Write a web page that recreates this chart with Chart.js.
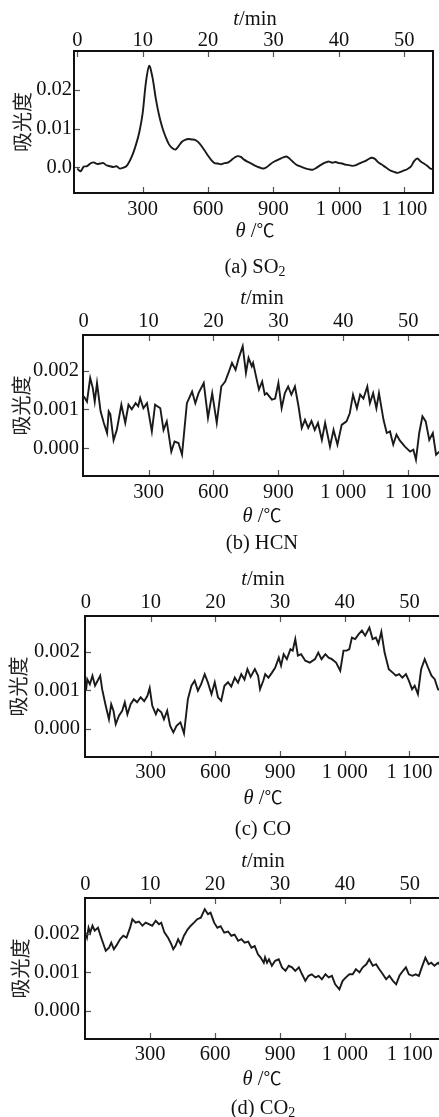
<!DOCTYPE html>
<html><head><meta charset="utf-8">
<script src="https://cdn.jsdelivr.net/npm/chart.js@4/dist/chart.umd.min.js"></script>
<style>
html,body{margin:0;padding:0;background:#fff;width:439px;height:1117px;overflow:hidden;}
#wrap{position:relative;width:439px;height:1117px;}
canvas{position:absolute;left:0;}
.lbl{position:absolute;font-family:"Liberation Serif","Times New Roman",serif;font-size:20.5px;color:#111;white-space:nowrap;transform:translate(-50%,-50%);line-height:1;}
.lbl i{font-style:italic;}
.lbl .deg{font-family:"Noto Sans CJK SC","DejaVu Sans",sans-serif;font-size:18px;}
.lbl sub{font-size:0.68em;vertical-align:-0.22em;line-height:0;}
</style></head>
<body><div id="wrap">
<canvas id="cA" width="439" height="225" style="top:0px"></canvas>
<canvas id="cB" width="439" height="208" style="top:300px"></canvas>
<canvas id="cC" width="439" height="209" style="top:580px"></canvas>
<canvas id="cD" width="439" height="209" style="top:862px"></canvas>

<div class="lbl" style="left:255px;top:18px"><i>t</i>/min</div>
<div class="lbl" style="left:255px;top:230px"><i>θ</i> /<span class="deg">℃</span></div>
<div class="lbl" style="left:255px;top:266px">(a) SO<sub>2</sub></div>

<div class="lbl" style="left:262px;top:297px"><i>t</i>/min</div>
<div class="lbl" style="left:262px;top:515px"><i>θ</i> /<span class="deg">℃</span></div>
<div class="lbl" style="left:262px;top:542px">(b) HCN</div>

<div class="lbl" style="left:263px;top:578px"><i>t</i>/min</div>
<div class="lbl" style="left:263px;top:797px"><i>θ</i> /<span class="deg">℃</span></div>
<div class="lbl" style="left:263px;top:828px">(c) CO</div>

<div class="lbl" style="left:263px;top:860px"><i>t</i>/min</div>
<div class="lbl" style="left:262px;top:1078px"><i>θ</i> /<span class="deg">℃</span></div>
<div class="lbl" style="left:263px;top:1107px">(d) CO<sub>2</sub></div>
</div>
<script>
// ---- axis tick values / labels ----
const minuteTicks = [0, 10, 20, 30, 40, 50];
const tempTickPos = [10, 20, 30, 40, 50];
const tempTickLabels = ['300', '600', '900', '1 000', '1 100'];
const yTicksSO2 = [0, 0.01, 0.02];
const yLabelsSO2 = ['0.0', '0.01', '0.02'];
const yTicksSmall = [0, 0.001, 0.002];
const yLabelsSmall = ['0.000', '0.001', '0.002'];
const yTitle = '吸光度';

// ---- (a) SO2 ----
const tSO2 = [
 0,0.5,1,1.5,2,2.5,3,3.5,4,4.5,
 5,5.5,6,6.5,7,7.5,8,8.5,9,9.5,
 10,10.5,11,11.5,12,12.5,13,13.5,14,14.5,
 15,15.5,16,16.5,17,17.5,18,18.5,19,19.5,
 20,20.5,21,21.5,22,22.5,23,23.5,24,24.5,
 25,25.5,26,26.5,27,27.5,28,28.5,29,29.5,
 30,30.5,31,31.5,32,32.5,33,33.5,34,34.5,
 35,35.5,36,36.5,37,37.5,38,38.5,39,39.5,
 40,40.5,41,41.5,42,42.5,43,43.5,44,44.5,
 45,45.5,46,46.5,47,47.5,48,48.5,49,49.5,
 50,50.5,51,51.5,52,52.5,53,53.5,54,54.5];
const aSO2 = [
 -0.0003,-0.0010,0.0002,0.0003,0.0010,0.0013,0.0009,0.0010,0.0011,0.0005,
 0.0003,0.0001,0.0003,-0.0003,-0.0001,0.0003,0.0016,0.0035,0.0060,0.0092,
 0.0140,0.0220,0.0262,0.0232,0.0178,0.0135,0.0103,0.0079,0.0060,0.0050,
 0.0046,0.0055,0.0066,0.0071,0.0073,0.0072,0.0071,0.0065,0.0055,0.0043,
 0.0030,0.0019,0.0011,0.0010,0.0008,0.0011,0.0012,0.0018,0.0025,0.0029,
 0.0027,0.0020,0.0015,0.0011,0.0006,0.0002,-0.0001,-0.0003,0.0001,0.0008,
 0.0014,0.0018,0.0022,0.0026,0.0028,0.0022,0.0014,0.0007,0.0003,0.0000,
 -0.0003,-0.0005,-0.0006,-0.0002,0.0004,0.0009,0.0013,0.0015,0.0012,0.0014,
 0.0011,0.0010,0.0007,0.0006,0.0004,0.0005,0.0009,0.0013,0.0016,0.0021,
 0.0025,0.0022,0.0013,0.0008,0.0002,-0.0004,-0.0009,-0.0012,-0.0014,-0.0011,
 -0.0008,-0.0004,0.0002,0.0016,0.0023,0.0015,0.0010,0.0004,-0.0003,-0.0005];

// ---- (b) HCN ----
const tHCN = [
 0,0.5,1.0,1.4,1.7,2.05,2.6,3.1,3.6,3.85,
 4.1,4.6,5.1,5.8,6.4,6.9,7.4,8.0,8.4,8.7,
 9.2,9.75,10.5,11.0,11.8,12.3,12.8,13.5,14.0,14.6,
 15.15,15.9,16.7,17.2,17.7,18.5,19.15,19.8,20.5,21.2,
 21.8,22.3,22.85,23.4,23.9,24.5,25.0,25.4,25.9,26.1,
 27.0,27.5,27.9,28.2,29.0,29.5,30.0,30.5,31.0,31.5,
 32.0,32.55,33.1,33.6,34.1,34.6,35.1,35.6,36.1,36.7,
 37.2,37.95,38.5,39.1,39.75,40.5,41.0,41.5,42.1,42.6,
 43.1,43.7,44.1,44.6,45.1,45.5,46.2,46.7,47.2,47.7,
 48.2,48.7,49.5,50.3,50.8,51.2,51.7,52.2,52.7,53.25,
 53.8,54.3,54.8,55.1];
const aHCN = [
 0.00134,0.00120,0.00181,0.00155,0.00120,0.00168,0.00095,0.00065,0.00039,0.00095,
 0.00088,0.00020,0.00047,0.00112,0.00065,0.00112,0.00100,0.00116,0.00108,0.00129,
 0.00103,0.00116,0.00043,0.00112,0.00103,0.00047,0.00069,-0.00009,0.00017,0.00013,
 -0.00017,0.00116,0.00146,0.00116,0.00142,0.00168,0.00078,0.00142,0.00065,0.00159,
 0.00172,0.00194,0.00220,0.00202,0.00233,0.00263,0.00194,0.00233,0.00211,0.00220,
 0.00151,0.00172,0.00138,0.00142,0.00125,0.00128,0.00168,0.00103,0.00142,0.00159,
 0.00138,0.00159,0.00108,0.00052,0.00073,0.00052,0.00070,0.00047,0.00065,0.00021,
 0.00065,0.00004,0.00047,0.00009,0.00060,0.00069,0.00090,0.00138,0.00103,0.00138,
 0.00128,0.00159,0.00116,0.00142,0.00103,0.00142,0.00073,0.00039,0.00043,0.00009,
 0.00035,0.00020,0.00004,-0.00009,-0.00004,-0.00030,0.00039,0.00082,0.00069,0.00021,
 0.00039,-0.00017,-0.00009,-0.00005];

// ---- (c) CO ----
const tCO = [
 0,0.2,0.6,1.0,1.4,1.8,2.2,2.5,3.0,3.55,
 3.9,4.25,4.6,5.1,5.6,6.0,6.4,6.9,7.4,7.9,
 8.45,9.0,9.5,9.85,10.25,10.8,11.1,11.65,12.05,12.55,
 13.0,13.5,14.0,14.6,15.15,15.75,16.3,16.8,17.3,17.8,
 18.35,18.85,19.4,19.9,20.4,20.9,21.4,21.95,22.45,23.0,
 23.5,24.0,24.5,24.95,25.45,26.1,26.6,26.9,27.4,27.7,
 28.2,28.75,29.25,29.8,30.15,30.55,31.05,31.6,31.95,32.35,
 32.75,33.25,33.9,34.6,35.4,35.9,36.4,37.0,37.5,38.0,
 38.65,39.3,39.8,40.3,40.7,41.1,41.6,42.15,42.65,43.15,
 43.8,44.3,44.8,45.2,45.65,46.15,46.8,47.4,47.9,48.4,
 48.9,49.45,49.9,50.4,50.8,51.3,51.8,52.35,52.85,53.4,
 53.9,54.4,54.8];
const aCO = [
 0.00099,0.00129,0.00116,0.00138,0.00112,0.00125,0.00138,0.00103,0.00064,0.00025,
 0.00064,0.00047,0.00012,0.00034,0.00047,0.00069,0.00038,0.00064,0.00077,0.00069,
 0.00082,0.00072,0.00086,0.00106,0.00060,0.00038,0.00051,0.00043,0.00025,0.00047,
 0.00008,-0.00009,0.00008,0.00017,-0.00012,0.00077,0.00112,0.00125,0.00099,0.00116,
 0.00142,0.00120,0.00090,0.00121,0.00082,0.00073,0.00112,0.00121,0.00110,0.00133,
 0.00120,0.00142,0.00128,0.00155,0.00135,0.00155,0.00138,0.00103,0.00125,0.00142,
 0.00133,0.00146,0.00159,0.00185,0.00164,0.00194,0.00181,0.00207,0.00203,0.00233,
 0.00190,0.00194,0.00177,0.00172,0.00181,0.00198,0.00181,0.00194,0.00185,0.00181,
 0.00172,0.00151,0.00203,0.00203,0.00207,0.00237,0.00233,0.00246,0.00255,0.00242,
 0.00263,0.00233,0.00237,0.00221,0.00252,0.00198,0.00155,0.00146,0.00138,0.00142,
 0.00133,0.00142,0.00125,0.00103,0.00112,0.00090,0.00155,0.00181,0.00160,0.00138,
 0.00129,0.00103,0.00100];

// ---- (d) CO2 ----
const tCO2 = [
 0,0.25,0.5,0.75,1.1,1.45,1.95,2.45,3.15,3.65,
 4.0,4.4,4.8,5.35,5.85,6.35,6.9,7.25,7.75,8.25,
 8.8,9.3,9.8,10.3,10.85,11.35,11.7,12.2,12.75,13.25,
 13.55,13.9,14.3,14.7,15.2,15.75,16.25,16.75,17.25,17.8,
 18.4,18.9,19.3,19.85,20.35,20.85,21.4,22.0,22.5,23.0,
 23.55,24.05,24.55,25.1,25.6,26.1,26.6,27.0,27.5,27.7,
 28.0,28.3,28.75,29.25,29.8,30.3,30.85,31.35,31.85,32.35,
 32.9,33.4,33.9,34.4,34.9,35.45,35.95,36.45,37.0,37.5,
 38.0,38.5,39.15,39.65,40.15,40.7,41.2,41.7,42.25,42.75,
 43.3,43.75,44.3,44.8,45.3,45.85,46.35,46.85,47.4,47.9,
 48.4,48.95,49.4,49.85,50.4,50.9,51.4,51.85,52.4,52.9,
 53.3,53.8,54.35,54.8];
const aCO2 = [
 0.00203,0.00190,0.00216,0.00203,0.00221,0.00208,0.00216,0.00190,0.00156,0.00164,
 0.00177,0.00160,0.00170,0.00186,0.00195,0.00190,0.00216,0.00238,0.00229,0.00232,
 0.00221,0.00229,0.00225,0.00221,0.00234,0.00225,0.00229,0.00203,0.00190,0.00173,
 0.00160,0.00169,0.00186,0.00173,0.00195,0.00211,0.00221,0.00229,0.00238,0.00242,
 0.00264,0.00251,0.00255,0.00229,0.00216,0.00220,0.00203,0.00206,0.00195,0.00198,
 0.00182,0.00186,0.00177,0.00180,0.00164,0.00168,0.00147,0.00139,0.00125,0.00139,
 0.00125,0.00134,0.00117,0.00130,0.00134,0.00113,0.00104,0.00117,0.00113,0.00104,
 0.00113,0.00095,0.00078,0.00091,0.00095,0.00087,0.00091,0.00082,0.00095,0.00087,
 0.00091,0.00069,0.00056,0.00078,0.00087,0.00095,0.00095,0.00108,0.00100,0.00113,
 0.00121,0.00134,0.00117,0.00121,0.00108,0.00095,0.00082,0.00091,0.00078,0.00069,
 0.00091,0.00104,0.00113,0.00095,0.00091,0.00095,0.00091,0.00113,0.00138,0.00121,
 0.00125,0.00117,0.00125,0.00117];

const SERIF = '"Liberation Serif", "Times New Roman", serif';
const TXT = '#111';

const inwardTicks = {
  id: 'inwardTicks',
  afterDraw(chart) {
    const ctx = chart.ctx, ca = chart.chartArea, L = 6;
    ctx.save();
    ctx.strokeStyle = '#555';
    ctx.lineWidth = 1.2;
    for (const id of ['xTop', 'xBot', 'y']) {
      const s = chart.scales[id];
      if (!s) continue;
      s.ticks.forEach(tk => {
        const p = Math.round(s.getPixelForValue(tk.value)) + 0.5;
        if ((id === 'xTop' || id === 'xBot') && p < ca.left + 3) return;
        ctx.beginPath();
        if (id === 'xTop') { ctx.moveTo(p, ca.top + 1); ctx.lineTo(p, ca.top + L); }
        else if (id === 'xBot') { ctx.moveTo(p, ca.bottom - 1); ctx.lineTo(p, ca.bottom - L); }
        else { ctx.moveTo(ca.left + 1, p); ctx.lineTo(ca.left + L, p); }
        ctx.stroke();
      });
    }
    ctx.restore();
  }
};

function makePanel(id, t, a, yT, yL, P) {
  const tickFont = { family: SERIF, size: 20.5, lineHeight: 1 };
  const border = { display: true, color: '#111', width: 2 };
  const noGrid = { display: false, drawTicks: false };
  const scales = {
    xTop: {
      type: 'linear', position: 'top', min: P.xmin, max: P.xmax,
      afterBuildTicks: s => { s.ticks = minuteTicks.map(v => ({ value: v })); },
      ticks: { font: tickFont, color: TXT, padding: P.topPad, maxRotation: 0, autoSkip: false, callback: (v, i) => String(minuteTicks[i]) },
      grid: noGrid, border: border,
      afterFit: s => { s.height = P.topH; }
    },
    xBot: {
      type: 'linear', position: 'bottom', min: P.xmin, max: P.xmax,
      afterBuildTicks: s => { s.ticks = tempTickPos.map(v => ({ value: v })); },
      ticks: { font: tickFont, color: TXT, padding: P.botPad, maxRotation: 0, autoSkip: false, callback: (v, i) => tempTickLabels[i] },
      grid: noGrid, border: border,
      afterFit: s => { s.height = P.botH; }
    },
    y: {
      type: 'linear', position: 'left', min: P.ymin, max: P.ymax,
      afterBuildTicks: s => { s.ticks = yT.map(v => ({ value: v })); },
      ticks: { font: tickFont, color: TXT, padding: P.yPad, autoSkip: false, callback: (v, i) => yL[i] },
      grid: noGrid, border: border,
      title: { display: true, text: yTitle, color: '#222', font: { family: '"Noto Sans CJK SC", sans-serif', size: 20, lineHeight: 1.2 }, padding: { top: P.titlePad, bottom: 0 } },
      afterFit: s => { s.width = P.yW; }
    }
  };
  if (P.rW) {
    scales.yR = {
      type: 'linear', position: 'right', min: P.ymin, max: P.ymax,
      ticks: { display: false }, grid: noGrid, border: border,
      afterFit: s => { s.width = P.rW; }
    };
  }
  return new Chart(document.getElementById(id), {
    type: 'line',
    data: {
      datasets: [{
        data: t.map((x, i) => ({ x: x, y: a[i] })),
        xAxisID: 'xTop', yAxisID: 'y',
        borderColor: '#1a1a1a', borderWidth: 1.9, pointRadius: 0,
        tension: P.tension, fill: false
      }]
    },
    options: {
      responsive: false, animation: false, events: [],
      layout: { padding: 0 },
      plugins: { legend: { display: false }, tooltip: { enabled: false } },
      scales: scales
    },
    plugins: [inwardTicks]
  });
}

makePanel('cA', tSO2, aSO2, yTicksSO2, yLabelsSO2,
  { xmin: -0.5, xmax: 54.39, ymin: -0.0066, ymax: 0.0300, yW: 74, topH: 51, botH: 32, rW: 6,
    yPad: 2, topPad: 0, botPad: 6.5, titlePad: 10.5, tension: 0.3 });
makePanel('cB', tHCN, aHCN, yTicksSmall, yLabelsSmall,
  { xmin: -0.11, xmax: 54.75, ymin: -0.00072, ymax: 0.00292, yW: 83, topH: 35, botH: 32, rW: 0,
    yPad: 4, topPad: 3, botPad: 6.5, titlePad: 9.5, tension: 0 });
makePanel('cC', tCO, aCO, yTicksSmall, yLabelsSmall,
  { xmin: -0.15, xmax: 54.56, ymin: -0.00073, ymax: 0.00293, yW: 85, topH: 36, botH: 32, rW: 0,
    yPad: 5, topPad: 2.8, botPad: 5.8, titlePad: 6.5, tension: 0 });
makePanel('cD', tCO2, aCO2, yTicksSmall, yLabelsSmall,
  { xmin: -0.05, xmax: 54.5, ymin: -0.00073, ymax: 0.00293, yW: 85, topH: 36, botH: 32, rW: 0,
    yPad: 5, topPad: 2.8, botPad: 5.8, titlePad: 8, tension: 0 });
</script>
</body></html>
